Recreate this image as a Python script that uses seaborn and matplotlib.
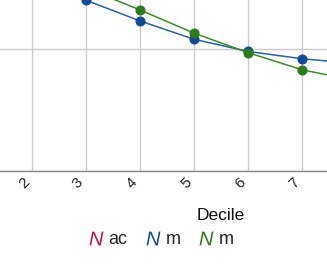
import matplotlib
matplotlib.use("Agg")
import matplotlib.pyplot as plt
from matplotlib.lines import Line2D
import seaborn as sns
import pandas as pd

deciles = [1, 2, 3, 4, 5, 6, 7, 8, 9, 10]
tick_labels = ["1", "2", "3", "4", "5", "6", "7", "8", "9", "10"]
n_ac = [4.5, 3.8, 3.2, 2.8, 2.4, 2.1, 1.9, 1.75, 1.6, 1.5]
n_m_blue = [1.9, 1.62, 1.40, 1.23, 1.08, 0.98, 0.92, 0.88, 0.85, 0.82]
n_m_green = [2.0, 1.75, 1.50, 1.32, 1.13, 0.97, 0.83, 0.74, 0.68, 0.60]
series_names = ["N ac", "N m (1)", "N m (2)"]
legend_subs = ["ac", "m", "m"]
colors = ["#c0143c", "#0f4c96", "#2f7a1f"]
line_colors = ["#c0143c", "#2a62a8", "#3d8a2a"]

sns.set_theme(style="whitegrid")
plt.rcParams["font.family"] = ["Liberation Sans", "DejaVu Sans"]
plt.rcParams["mathtext.fontset"] = "custom"
plt.rcParams["mathtext.it"] = "Liberation Sans:italic"
plt.rcParams["mathtext.rm"] = "Liberation Sans"

df = pd.DataFrame({
    "Decile": deciles * 3,
    "value": n_ac + n_m_blue + n_m_green,
    "series": [series_names[0]] * 10 + [series_names[1]] * 10 + [series_names[2]] * 10,
})

fig = plt.figure(figsize=(3.27, 2.69), dpi=100)
W, H = 327, 269
px_step = 54
left_px = 32 - 1.5 * px_step
ax = fig.add_axes([left_px / W, (H - 171) / H, 10 * px_step / W, 244 / H])

for name, lc, mc in zip(series_names, line_colors, colors):
    sub = df[df["series"] == name]
    sns.lineplot(data=sub, x="Decile", y="value", ax=ax, color=lc, linewidth=1.1,
                 marker="o", markersize=6.5, markerfacecolor=mc, markeredgecolor=mc,
                 legend=False)

ax.set_xlim(0.5, 10.5)
ax.set_ylim(0, 2)
ax.set_xticks(deciles)
ax.set_yticks([0, 1, 2])
ax.set_xticklabels(tick_labels, rotation=45, ha="right", fontsize=11,
                   color="#222222")
ax.tick_params(axis="x", length=2, color="#333333", pad=1)
ax.grid(True, color="#cccccc", linewidth=1)
for s in ["top", "right", "left"]:
    ax.spines[s].set_visible(False)
ax.spines["bottom"].set_color("#888888")
ax.spines["bottom"].set_linewidth(1)
ax.set_ylabel("")
ax.set_xlabel("")
fig.text(221 / W, 1 - 215 / H, "Decile", ha="center", va="center", fontsize=12.5, color="#111111")

handles = [Line2D([], [], linestyle="none", marker=r"$N$", markersize=10,
                  color=c, markeredgewidth=0) for c in colors]
fig.legend(handles, legend_subs, loc="center", bbox_to_anchor=(161 / W, 1 - 240 / H),
           ncol=3, frameon=False, fontsize=13, handlelength=0.8, handletextpad=0.3,
           columnspacing=1.0, borderpad=0)

fig.savefig("out.png", dpi=100)
